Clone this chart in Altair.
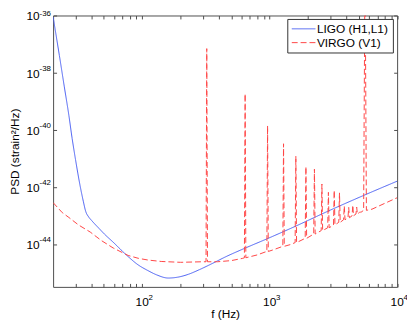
import altair as alt
import pandas as pd

# ---------------- data ----------------
series_names = ["LIGO (H1,L1)", "VIRGO (V1)"]

# LIGO design sensitivity (frequency in Hz, log10 of PSD)
ligo_f = [20.0, 22.4, 24.5, 26.6, 28.2, 30.0, 32.7, 34.5, 36.0, 38.0, 40.0, 42.5,
          46.0, 50.0, 60.0, 75.0, 93.0, 111, 130, 160, 190, 230, 280, 355, 450,
          660, 950, 1500, 3000, 6000, 10000]
ligo_log10_psd = [-36.05, -37.40, -38.50, -39.50, -40.30, -41.05, -42.00, -42.50,
                  -42.85, -43.05, -43.17, -43.30, -43.46, -43.63, -43.96, -44.38,
                  -44.73, -44.93, -45.08, -45.19, -45.16, -45.06, -44.90, -44.68,
                  -44.45, -44.12, -43.82, -43.43, -42.81, -42.22, -41.80]

# VIRGO smooth floor between the lines
virgo_f = [20.0, 23.6, 26.6, 31.6, 39.1, 47.9, 59.3, 77.6, 93.3, 111, 141, 200,
           297, 390, 500, 615, 800, 920, 1070, 1450, 3110, 6350, 9640, 10000]
virgo_log10_psd = [-42.55, -42.90, -43.07, -43.33, -43.58, -43.88, -44.14, -44.40,
                   -44.50, -44.56, -44.61, -44.64, -44.62, -44.62, -44.58, -44.50,
                   -44.38, -44.28, -44.20, -44.02, -43.36, -42.78, -42.41, -42.38]

# VIRGO violin-mode lines: centre frequency, peak and floor under the line
spike_f = [321, 642, 963, 1285, 1605, 1925, 2245, 2570, 2890, 3210, 3530, 3850,
           4170, 4490, 4815, 5135, 5600]
spike_log10_peak = [-37.16, -38.74, -39.86, -40.49, -40.92, -41.29, -41.38, -41.90,
                    -42.19, -42.12, -42.21, -42.67, -42.72, -42.64, -42.71, -42.88,
                    -34.0]
spike_log10_base = [-44.62, -44.48, -44.26, -44.08, -43.95, -43.80, -43.65, -43.53,
                    -43.43, -43.33, -43.24, -43.15, -43.08, -43.01, -42.95, -42.89,
                    -42.82]
spike_rel_halfwidth = [0.013] * 16 + [0.025]

x_major = [100, 1000, 10000]
x_minor = [30, 40, 50, 60, 70, 80, 90, 200, 300, 400, 500, 600, 700, 800, 900,
           2000, 3000, 4000, 5000, 6000, 7000, 8000, 9000]
y_major = [1e-44, 1e-42, 1e-40, 1e-38, 1e-36]
x_domain = [20, 10000]
y_domain = [10 ** -45.5, 1e-36]

# ---------------- tables ----------------
ligo = pd.DataFrame({"f": ligo_f,
                     "psd": [10 ** v for v in ligo_log10_psd],
                     "series": series_names[0]})

rows = list(zip(virgo_f, virgo_log10_psd))
for f, pk, b, w in zip(spike_f, spike_log10_peak, spike_log10_base, spike_rel_halfwidth):
    rows += [(f * (1 - w), b), (f, pk), (f * (1 + w), b)]
rows.sort()
virgo = pd.DataFrame({"f": [r[0] for r in rows],
                      "psd": [10 ** r[1] for r in rows],
                      "series": series_names[1]})

# ---------------- styling ----------------
FONT = "Liberation Sans"
AX = "#4d4d4d"
BLUE = "#4a5ff2"
RED = "#ff4545"
W, H = 348.6, 275

xs = alt.Scale(type="log", domain=x_domain, nice=False)
ys = alt.Scale(type="log", domain=y_domain, nice=False)

EXP = "'' + round(log(datum.value) / LN10)"

ax_x_base = alt.Axis(orient="bottom", values=x_major, labelExpr="'10'", labelFontSize=12,
                     labelAlign="center", labelBaseline="alphabetic", labelPadding=18.7,
                     labelOffset=-0.5, labelFlush=False, labelOverlap=False, ticks=False,
                     domain=False, grid=False, labelColor="black",
                     title="f (Hz)", titleFontSize=12, titleFontWeight="normal",
                     titleColor="black", titleX=W / 2, titleY=31.5,
                     titleAlign="center", titleBaseline="alphabetic")
ax_y_base = alt.Axis(orient="left", values=y_major, labelExpr="'10'", labelFontSize=12,
                     labelAlign="right", labelBaseline="alphabetic", labelPadding=14.2,
                     labelOffset=4.5, labelFlush=False, labelOverlap=False, ticks=False,
                     domain=False, grid=False, labelColor="black",
                     title="PSD (strain²/Hz)", titleFontSize=12, titleFontWeight="normal",
                     titleColor="black", titleAngle=270, titleX=-35.2, titleY=H / 2,
                     titleAlign="center", titleBaseline="alphabetic")
ax_x_exp = alt.Axis(orient="bottom", values=x_major, labelExpr=EXP, labelFontSize=8,
                    labelAlign="left", labelBaseline="alphabetic", labelPadding=13,
                    labelOffset=6, labelFlush=False, labelOverlap=False, ticks=False,
                    domain=False, grid=False, labelColor="black", title=None)
ax_y_exp = alt.Axis(orient="left", values=y_major, labelExpr=EXP, labelFontSize=8,
                    labelAlign="left", labelBaseline="alphabetic", labelPadding=14.2,
                    labelOffset={"condition": {"test": "datum.value > 1e-37", "value": 0.5},
                                 "value": -2.5},
                    labelFlush=False, labelOverlap=False, ticks=False,
                    domain=False, grid=False, labelColor="black", title=None)


def tick_axis(orient, values, size=3.5):
    return alt.Axis(orient=orient, values=values, labels=False, domain=False, grid=False,
                    ticks=True, tickSize=size, offset=-size, tickColor=AX, tickWidth=1,
                    title=None)


leg = alt.Legend(title=None, orient="none", legendX=237.3, legendY=3.5,
                 fillColor="white", strokeColor="#333333", padding=4,
                 symbolType="stroke", symbolSize=576, symbolStrokeWidth=1,
                 clipHeight=12, rowPadding=2, labelOffset=1, labelFontSize=12,
                 labelFont=FONT, labelColor="black", labelLimit=200)
color = alt.Color("series:N", scale=alt.Scale(domain=series_names, range=[BLUE, RED]),
                  legend=leg)
dash = alt.StrokeDash("series:N",
                      scale=alt.Scale(domain=series_names, range=[[1, 0], [6, 3]]),
                      legend=leg)


def frame_layer(xa, ya):
    return alt.Chart(ligo).mark_line(opacity=0).encode(
        x=alt.X("f:Q", scale=xs, axis=xa), y=alt.Y("psd:Q", scale=ys, axis=ya))


ticks_a = frame_layer(tick_axis("bottom", x_major + x_minor), tick_axis("left", y_major))
ticks_b = frame_layer(tick_axis("top", x_major + x_minor), tick_axis("right", y_major))

blue = alt.Chart(ligo).mark_line(strokeWidth=1, clip=True, interpolate="monotone").encode(
    x=alt.X("f:Q", scale=xs, axis=ax_x_base),
    y=alt.Y("psd:Q", scale=ys, axis=ax_y_base),
    color=color, strokeDash=dash)

red = alt.Chart(virgo).mark_line(strokeWidth=1, clip=True).encode(
    x=alt.X("f:Q", scale=xs, axis=ax_x_exp),
    y=alt.Y("psd:Q", scale=ys, axis=ax_y_exp),
    color=color, strokeDash=dash)

chart = alt.layer(ticks_a, ticks_b, blue, red).resolve_axis(
    x="independent", y="independent"
).properties(
    width=W, height=H,
    autosize=alt.AutoSizeParams(type="none"),
    padding={"left": 45.7, "top": 5.5, "right": 10, "bottom": 35},
).configure(font=FONT).configure_view(stroke=AX, strokeWidth=1)

chart.save("out.html", embed_options={"renderer": "svg", "actions": False})
